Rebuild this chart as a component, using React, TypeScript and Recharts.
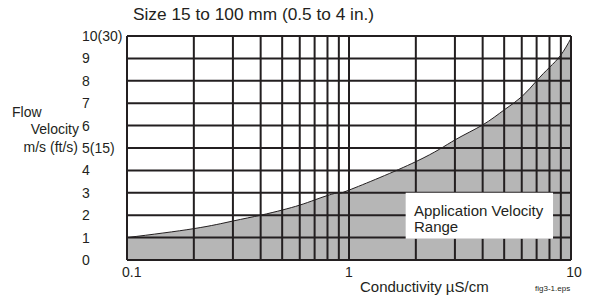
import {
  Area,
  CartesianGrid,
  ComposedChart,
  ReferenceArea,
  XAxis,
  YAxis,
} from "recharts";

// conductivity (µS/cm) and the upper edge of the application velocity range (m/s)
const conductivity = [0.1, 0.2, 0.3, 0.4, 0.5, 0.6, 0.7, 0.8, 0.9, 1, 2, 3, 4, 5, 6, 7, 8, 9, 10];
const velocity = [1.0, 1.4, 1.74, 2.0, 2.23, 2.45, 2.68, 2.88, 3.0, 3.12, 4.39, 5.36, 6.03, 6.7, 7.29, 8.0, 8.6, 9.15, 9.9];

const xTicks = [0.1, 0.2, 0.3, 0.4, 0.5, 0.6, 0.7, 0.8, 0.9, 1, 2, 3, 4, 5, 6, 7, 8, 9, 10];
const xTickLabels: Record<string, string> = { "0.1": "0.1", "1": "1", "10": "10" };
const yTicks = [0, 1, 2, 3, 4, 5, 6, 7, 8, 9, 10];
const yTickLabels = ["0", "1", "2", "3", "4", "5(15)", "6", "7", "8", "9", "10(30)"];

// white box behind the "Application Velocity Range" note
const noteBox = { x1: 1.8, x2: 8.3, y1: 0.95, y2: 3.0 };

const data = conductivity.map((c, i) => ({ c, v: velocity[i] }));

const FONT = "'Liberation Sans', Arial, Helvetica, sans-serif";
const INK = "#231f20";

function YTick(props: any) {
  const { y, payload } = props;
  return (
    <text x={82} y={y + 5} fontSize={14} fill={INK} textAnchor="start" fontFamily={FONT}>
      {yTickLabels[yTicks.indexOf(payload.value)]}
    </text>
  );
}

function XTick(props: any) {
  const { x, payload } = props;
  const label = xTickLabels[String(payload.value)];
  if (!label) return <g />;
  const anchor = label === "0.1" ? "start" : "middle";
  const dx = label === "0.1" ? -5 : label === "10" ? 3 : 0;
  return (
    <text x={x + dx} y={277} fontSize={14} fill={INK} textAnchor={anchor} fontFamily={FONT}>
      {label}
    </text>
  );
}

export default function App() {
  return (
    <div
      style={{
        position: "absolute",
        left: 0,
        top: 0,
        width: 597,
        height: 298,
        background: "#fff",
        fontFamily: FONT,
      }}
    >
      <ComposedChart
        width={597}
        height={298}
        data={data}
        margin={{ top: 36, right: 26, bottom: 0, left: 0 }}
      >
        <XAxis
          dataKey="c"
          type="number"
          scale="log"
          domain={[0.1, 10]}
          ticks={xTicks}
          interval={0}
          height={38}
          axisLine={false}
          tickLine={false}
          tick={(p: any) => <XTick {...p} />}
        />
        <YAxis
          type="number"
          domain={[0, 10]}
          ticks={yTicks}
          interval={0}
          width={127}
          axisLine={false}
          tickLine={false}
          tick={(p: any) => <YTick {...p} />}
        />
        <Area
          dataKey="v"
          type="natural"
          fill="#b6b6b6"
          fillOpacity={1}
          stroke={INK}
          strokeWidth={1}
          dot={false}
          activeDot={false}
          isAnimationActive={false}
          zIndex={100}
        />
        <CartesianGrid stroke={INK} strokeWidth={2} zIndex={200} />
        <ReferenceArea
          x1={noteBox.x1}
          x2={noteBox.x2}
          y1={noteBox.y1}
          y2={noteBox.y2}
          fill="#fff"
          fillOpacity={1}
          stroke="none"
          zIndex={300}
        />
      </ComposedChart>
      <svg
        width={597}
        height={298}
        style={{ position: "absolute", left: 0, top: 0, pointerEvents: "none" }}
        fontFamily={FONT}
        fill={INK}
      >
        <text x={133} y={20} fontSize={17.3}>
          Size 15 to 100 mm (0.5 to 4 in.)
        </text>
        <text x={12} y={117} fontSize={14}>
          Flow
        </text>
        <text x={79} y={134} fontSize={14} textAnchor="end">
          Velocity
        </text>
        <text x={78} y={152} fontSize={14} textAnchor="end">
          m/s (ft/s)
        </text>
        <text x={414} y={216} fontSize={15}>
          Application Velocity
        </text>
        <text x={414} y={232} fontSize={15}>
          Range
        </text>
        <text x={360} y={292} fontSize={15}>
          Conductivity µS/cm
        </text>
        <text x={535} y={291} fontSize={8}>
          fig3-1.eps
        </text>
      </svg>
    </div>
  );
}
